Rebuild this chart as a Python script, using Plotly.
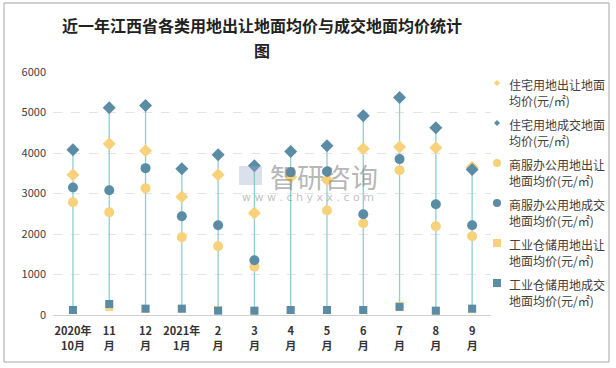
import plotly.graph_objects as go

categories = ["2020年<br>10月", "11<br>月", "12<br>月", "2021年<br>1月", "2<br>月", "3<br>月",
              "4<br>月", "5<br>月", "6<br>月", "7<br>月", "8<br>月", "9<br>月"]

res_sell = [3461, 4227, 4054, 2917, 3461, 2521, 3410, 3337, 4104, 4146, 4128, 3650]
res_deal = [4079, 5117, 5175, 3609, 3955, 3683, 4038, 4178, 4920, 5373, 4623, 3593]
com_sell = [2785, 2538, 3131, 1920, 1697, 1195, 3480, 2579, 2267, 3577, 2193, 1945]
com_deal = [3147, 3082, 3626, 2439, 2216, 1352, 3527, 3543, 2489, 3849, 2736, 2216]
ind_sell = [120, 200, 150, 150, 125, 100, 120, 120, 120, 225, 100, 140]
ind_deal = [124, 272, 157, 157, 107, 107, 124, 124, 124, 200, 107, 157]

series_names = [
    "住宅用地出让地面<br>均价(元/㎡)",
    "住宅用地成交地面<br>均价(元/㎡)",
    "商服办公用地出让<br>地面均价(元/㎡)",
    "商服办公用地成交<br>地面均价(元/㎡)",
    "工业仓储用地出让<br>地面均价(元/㎡)",
    "工业仓储用地成交<br>地面均价(元/㎡)",
]
series_values = [res_sell, res_deal, com_sell, com_deal, ind_sell, ind_deal]

YELLOW = "#F8D27A"
DARK = "#5A8DA5"
LINE = "#8ECFCF"
styles = [
    (YELLOW, "diamond", 10),
    (DARK, "diamond", 10),
    (YELLOW, "circle", 10),
    (DARK, "circle", 10),
    (YELLOW, "square", 8),
    (DARK, "square", 8),
]

FONT = "Noto Sans CJK SC"
fig = go.Figure()

# high-low lines
lx, ly = [], []
for i, c in enumerate(categories):
    vals = [s[i] for s in series_values]
    lx += [c, c, None]
    ly += [min(vals), max(vals), None]
fig.add_trace(go.Scatter(x=lx, y=ly, mode="lines", line=dict(color=LINE, width=1.3),
                         showlegend=False, hoverinfo="skip"))

for k, (name, vals) in enumerate(zip(series_names, series_values)):
    col, sym, sz = styles[k]
    fig.add_trace(go.Scatter(x=categories, y=vals, mode="markers", name=name.replace("<br>", ""),
                             showlegend=False,
                             marker=dict(color=col, symbol=sym, size=sz, line=dict(width=0))))

# plot area: x 53..491, y 72..315
L, R, T, B = 53, 491, 72, 315
W, H = R - L, B - T

def px(x):
    return (x - L) / W

def py(y):
    return (B - y) / H

fig.add_shape(type="rect", xref="paper", yref="paper",
              x0=px(4), x1=px(609), y0=py(3), y1=py(362),
              line=dict(color="#A6A6A6", width=1), fillcolor="rgba(0,0,0,0)", layer="below")

# manual legend (markers as shapes, text as annotations)
for k, name in enumerate(series_names):
    col, sym, sz = styles[k]
    cx, cy = 497, 83 + 40 * k
    r = 3
    if sym == "diamond":
        path = (f"M {px(cx - r)} {py(cy)} L {px(cx)} {py(cy - r)} "
                f"L {px(cx + r)} {py(cy)} L {px(cx)} {py(cy + r)} Z")
        fig.add_shape(type="path", xref="paper", yref="paper", path=path,
                      fillcolor=col, line=dict(width=0))
    elif sym == "circle":
        r = 4
        fig.add_shape(type="circle", xref="paper", yref="paper",
                      x0=px(cx - r), x1=px(cx + r), y0=py(cy + r), y1=py(cy - r),
                      fillcolor=col, line=dict(width=0))
    else:
        r = 4
        fig.add_shape(type="rect", xref="paper", yref="paper",
                      x0=px(cx - r), x1=px(cx + r), y0=py(cy + r), y1=py(cy - r),
                      fillcolor=col, line=dict(width=0))
    fig.add_annotation(xref="paper", yref="paper", x=px(507), y=py(cy - 9),
                       xanchor="left", yanchor="top", align="left", showarrow=False,
                       text=name, font=dict(family=FONT, size=12, color="#404040"))

# watermark
fig.add_annotation(xref="paper", yref="paper", x=px(324), y=py(176), text="智研咨询",
                   xanchor="center", yanchor="middle",
                   showarrow=False, font=dict(family=FONT, size=27, color="rgba(120,120,120,0.55)"))
fig.add_annotation(xref="paper", yref="paper", x=px(308), y=py(197),
                   xanchor="center", yanchor="middle",
                   text="w w w . c h y x x . c o m", showarrow=False,
                   font=dict(family="DejaVu Sans", size=11, color="rgba(130,130,130,0.5)"))
fig.add_shape(type="rect", xref="paper", yref="paper", x0=px(239), x1=px(262),
              y0=py(185), y1=py(166), line=dict(width=0), fillcolor="rgba(150,170,200,0.35)")

# title (two lines)
fig.add_annotation(xref="paper", yref="paper", x=px(262), y=py(25),
                   xanchor="center", yanchor="middle",
                   text="近一年江西省各类用地出让地面均价与成交地面均价统计",
                   showarrow=False, font=dict(family=FONT, size=16, color="#222222", weight="bold"))
fig.add_annotation(xref="paper", yref="paper", x=px(262), y=py(50),
                   xanchor="center", yanchor="middle", text="图",
                   showarrow=False, font=dict(family=FONT, size=16, color="#222222", weight="bold"))

fig.update_layout(
    width=616, height=368,
    margin=dict(l=L, r=616 - R, t=T, b=368 - B),
    paper_bgcolor="white", plot_bgcolor="white",
    font=dict(family=FONT, size=12, color="#404040"),
    xaxis=dict(type="category", range=[-0.55, 11.52], showgrid=False,
               showline=True, linecolor="#D0D0D0", linewidth=1, ticks="",
               ticklabelstandoff=6,
               tickfont=dict(size=11, color="#333333", weight="bold")),
    yaxis=dict(range=[0, 6000], dtick=1000, showline=False, zeroline=False,
               gridcolor="#E4E4E4", griddash="dash", gridwidth=1,
               ticklabelstandoff=6,
               tickfont=dict(size=11, color="#404040"), ticks="", ticklen=0),
    showlegend=False,
)

fig.write_html("out.html", config={"displayModeBar": False},
               post_script="document.body.style.margin='0px';")
